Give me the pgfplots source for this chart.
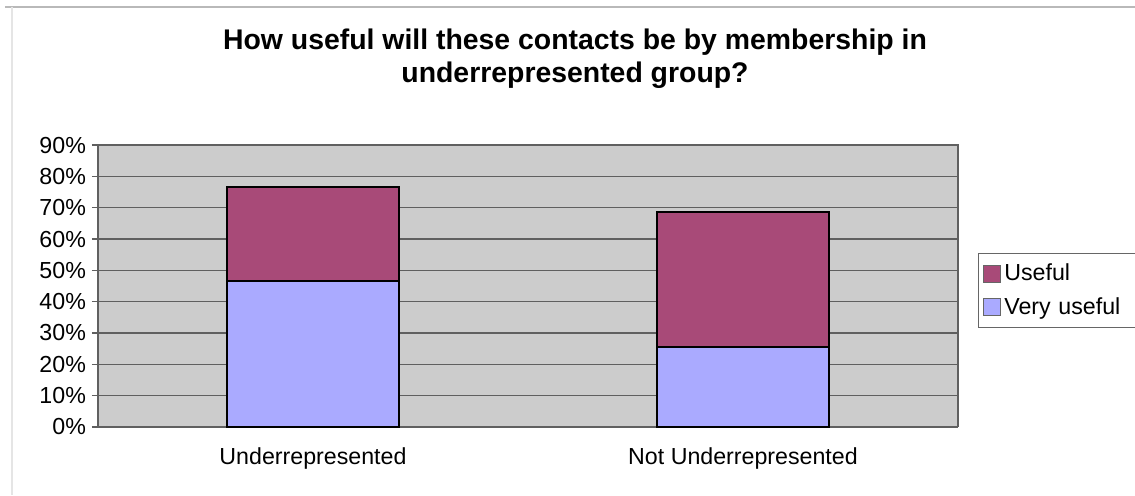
\documentclass[border=0pt]{standalone}
\usepackage{pgfplots}
\pgfplotsset{compat=1.18}
\usepackage{fontspec}
\setmainfont{Liberation Sans}
\definecolor{useful}{RGB}{168,74,120}
\definecolor{veryuseful}{RGB}{170,170,255}
\definecolor{plotbg}{RGB}{204,204,204}
\definecolor{gridc}{RGB}{95,95,95}
\begin{document}
\begin{tikzpicture}[x=1pt,y=1pt]
\path[use as bounding box] (-49,-34) rectangle (518.5,213.5);
\draw[gray!55,line width=0.6pt] (-46.5,210) -- (518.5,210);
\draw[gray!20,line width=0.6pt] (-43,210) -- (-43,-34);
\begin{axis}[
  at={(0,0)}, anchor=south west,
  scale only axis, width=430pt, height=141pt,
  ybar stacked, bar width=86pt,
  xmin=-0.5, xmax=1.5, ymin=0, ymax=90,
  xtick={0,1}, xticklabels={Underrepresented,Not Underrepresented},
  x tick style={draw=none},
  extra x ticks={-0.5,0.5,1.5}, extra x tick labels={},
  extra x tick style={major tick length=4pt, tick align=outside, tick style={draw=gray!80!black, line width=0.6pt}, grid=none},
  ytick={0,10,...,90},
  yticklabels={0\%,10\%,20\%,30\%,40\%,50\%,60\%,70\%,80\%,90\%},
  ymajorgrids, grid style={gridc, line width=0.7pt},
  y tick style={gridc, line width=0.7pt},
  major tick length=3pt, tick align=outside,
  axis background/.style={fill=plotbg},
  axis line style={gray!75!black, line width=0.8pt},
  axis x line*=bottom, axis y line*=left,
  every tick label/.append style={font=\fontsize{11.6}{13}\selectfont},
  xticklabel style={yshift=-4pt},
  yticklabel style={xshift=0.5pt},
  legend style={at={(1.0233,0.617)}, anchor=north west, draw=gray!80!black, line width=0.5pt,
    font=\fontsize{11.6}{13}\selectfont, row sep=3pt, inner xsep=2pt, inner ysep=3pt,
    text width=63pt, cells={anchor=west}},
  legend image code/.code={\draw[#1, draw=black!60, line width=0.4pt] (0pt,-4.25pt) rectangle (8.5pt,4.25pt);},
  reverse legend,
]
\addplot[fill=veryuseful, draw=black, line width=1pt] coordinates {(0,46.5) (1,25.5)};
\addplot[fill=useful, draw=black, line width=1pt] coordinates {(0,30) (1,43)};
\legend{Very useful,Useful}
\end{axis}
\draw[gray!75!black, line width=0.8pt] (0,141) -- (430,141) -- (430,0);
\node[font=\bfseries\fontsize{14.2}{16.5}\selectfont, align=center] at (238.5,184.25)
  {How useful will these contacts be by membership in\\underrepresented group?};
\end{tikzpicture}
\end{document}
